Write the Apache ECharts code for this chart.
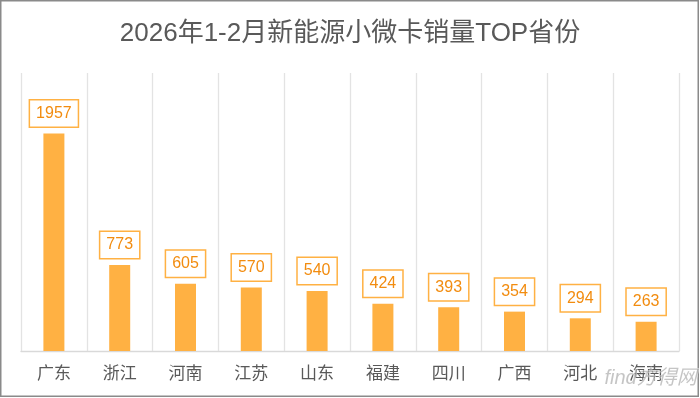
<!DOCTYPE html>
<html>
<head>
<meta charset="utf-8">
<script src="https://cdn.jsdelivr.net/npm/echarts@6/dist/echarts.min.js"></script>
<style>
  html, body { margin: 0; padding: 0; background: #fff; }
  #chart { width: 700px; height: 398px; }
</style>
</head>
<body>
<div id="chart"></div>
<script>
// 省份
const provinces = ['广东', '浙江', '河南', '江苏', '山东', '福建', '四川', '广西', '河北', '海南'];
// 销量(辆)
const sales = [1957, 773, 605, 570, 540, 424, 393, 354, 294, 263];

const titleText = '2026年1-2月新能源小微卡销量TOP省份';
const fontLatinCjk = '"Liberation Sans", Arial, "Noto Sans CJK SC", sans-serif';

const myChart = echarts.init(document.getElementById('chart'), null, { renderer: 'canvas' });

const option = {
  backgroundColor: '#ffffff',
  animation: false,
  title: {
    text: titleText,
    left: 'center',
    top: 15,
    textStyle: {
      fontFamily: fontLatinCjk,
      fontSize: 26,
      fontWeight: 'normal',
      color: '#595959',
      lineHeight: 28
    }
  },
  grid: {
    left: 21,
    right: 21,
    top: 73,
    bottom: 47,
    containLabel: false
  },
  xAxis: {
    type: 'category',
    data: provinces,
    boundaryGap: true,
    axisLine: { show: true, lineStyle: { color: '#d9d9d9', width: 1.3 } },
    axisTick: { show: false },
    splitLine: { show: true, lineStyle: { color: '#e3e3e3', width: 1.3 } },
    axisLabel: {
      margin: 13,
      fontFamily: '"Noto Sans CJK SC", sans-serif',
      fontSize: 17,
      lineHeight: 17,
      color: '#595959'
    }
  },
  yAxis: {
    type: 'value',
    min: 0,
    max: 2500,
    show: false,
    splitLine: { show: false }
  },
  series: [
    {
      type: 'bar',
      data: sales,
      barWidth: 21,
      itemStyle: { color: '#FFB143' },
      label: {
        show: true,
        position: 'top',
        distance: 7,
        fontFamily: fontLatinCjk,
        fontSize: 16,
        lineHeight: 16,
        color: '#F28C0F',
        backgroundColor: '#ffffff',
        borderColor: '#FFB143',
        borderWidth: 1.5,
        padding: [5, 6, 5, 6]
      }
    }
  ],
  graphic: [
    {
      type: 'rect',
      z: 100,
      shape: { x: 0.75, y: 0.75, width: 697.5, height: 395.5 },
      style: { fill: 'none', stroke: '#8a8a8a', lineWidth: 1.5 }
    },
    {
      type: 'text',
      z: 100,
      left: 604,
      top: 368,
      style: {
        text: 'find方得网',
        font: 'italic 20px "Liberation Sans", "Noto Sans CJK SC", sans-serif',
        fill: 'rgba(150,150,150,0.55)',
        stroke: 'rgba(255,255,255,0.6)',
        lineWidth: 1
      }
    }
  ]
};

myChart.setOption(option);
</script>
</body>
</html>
